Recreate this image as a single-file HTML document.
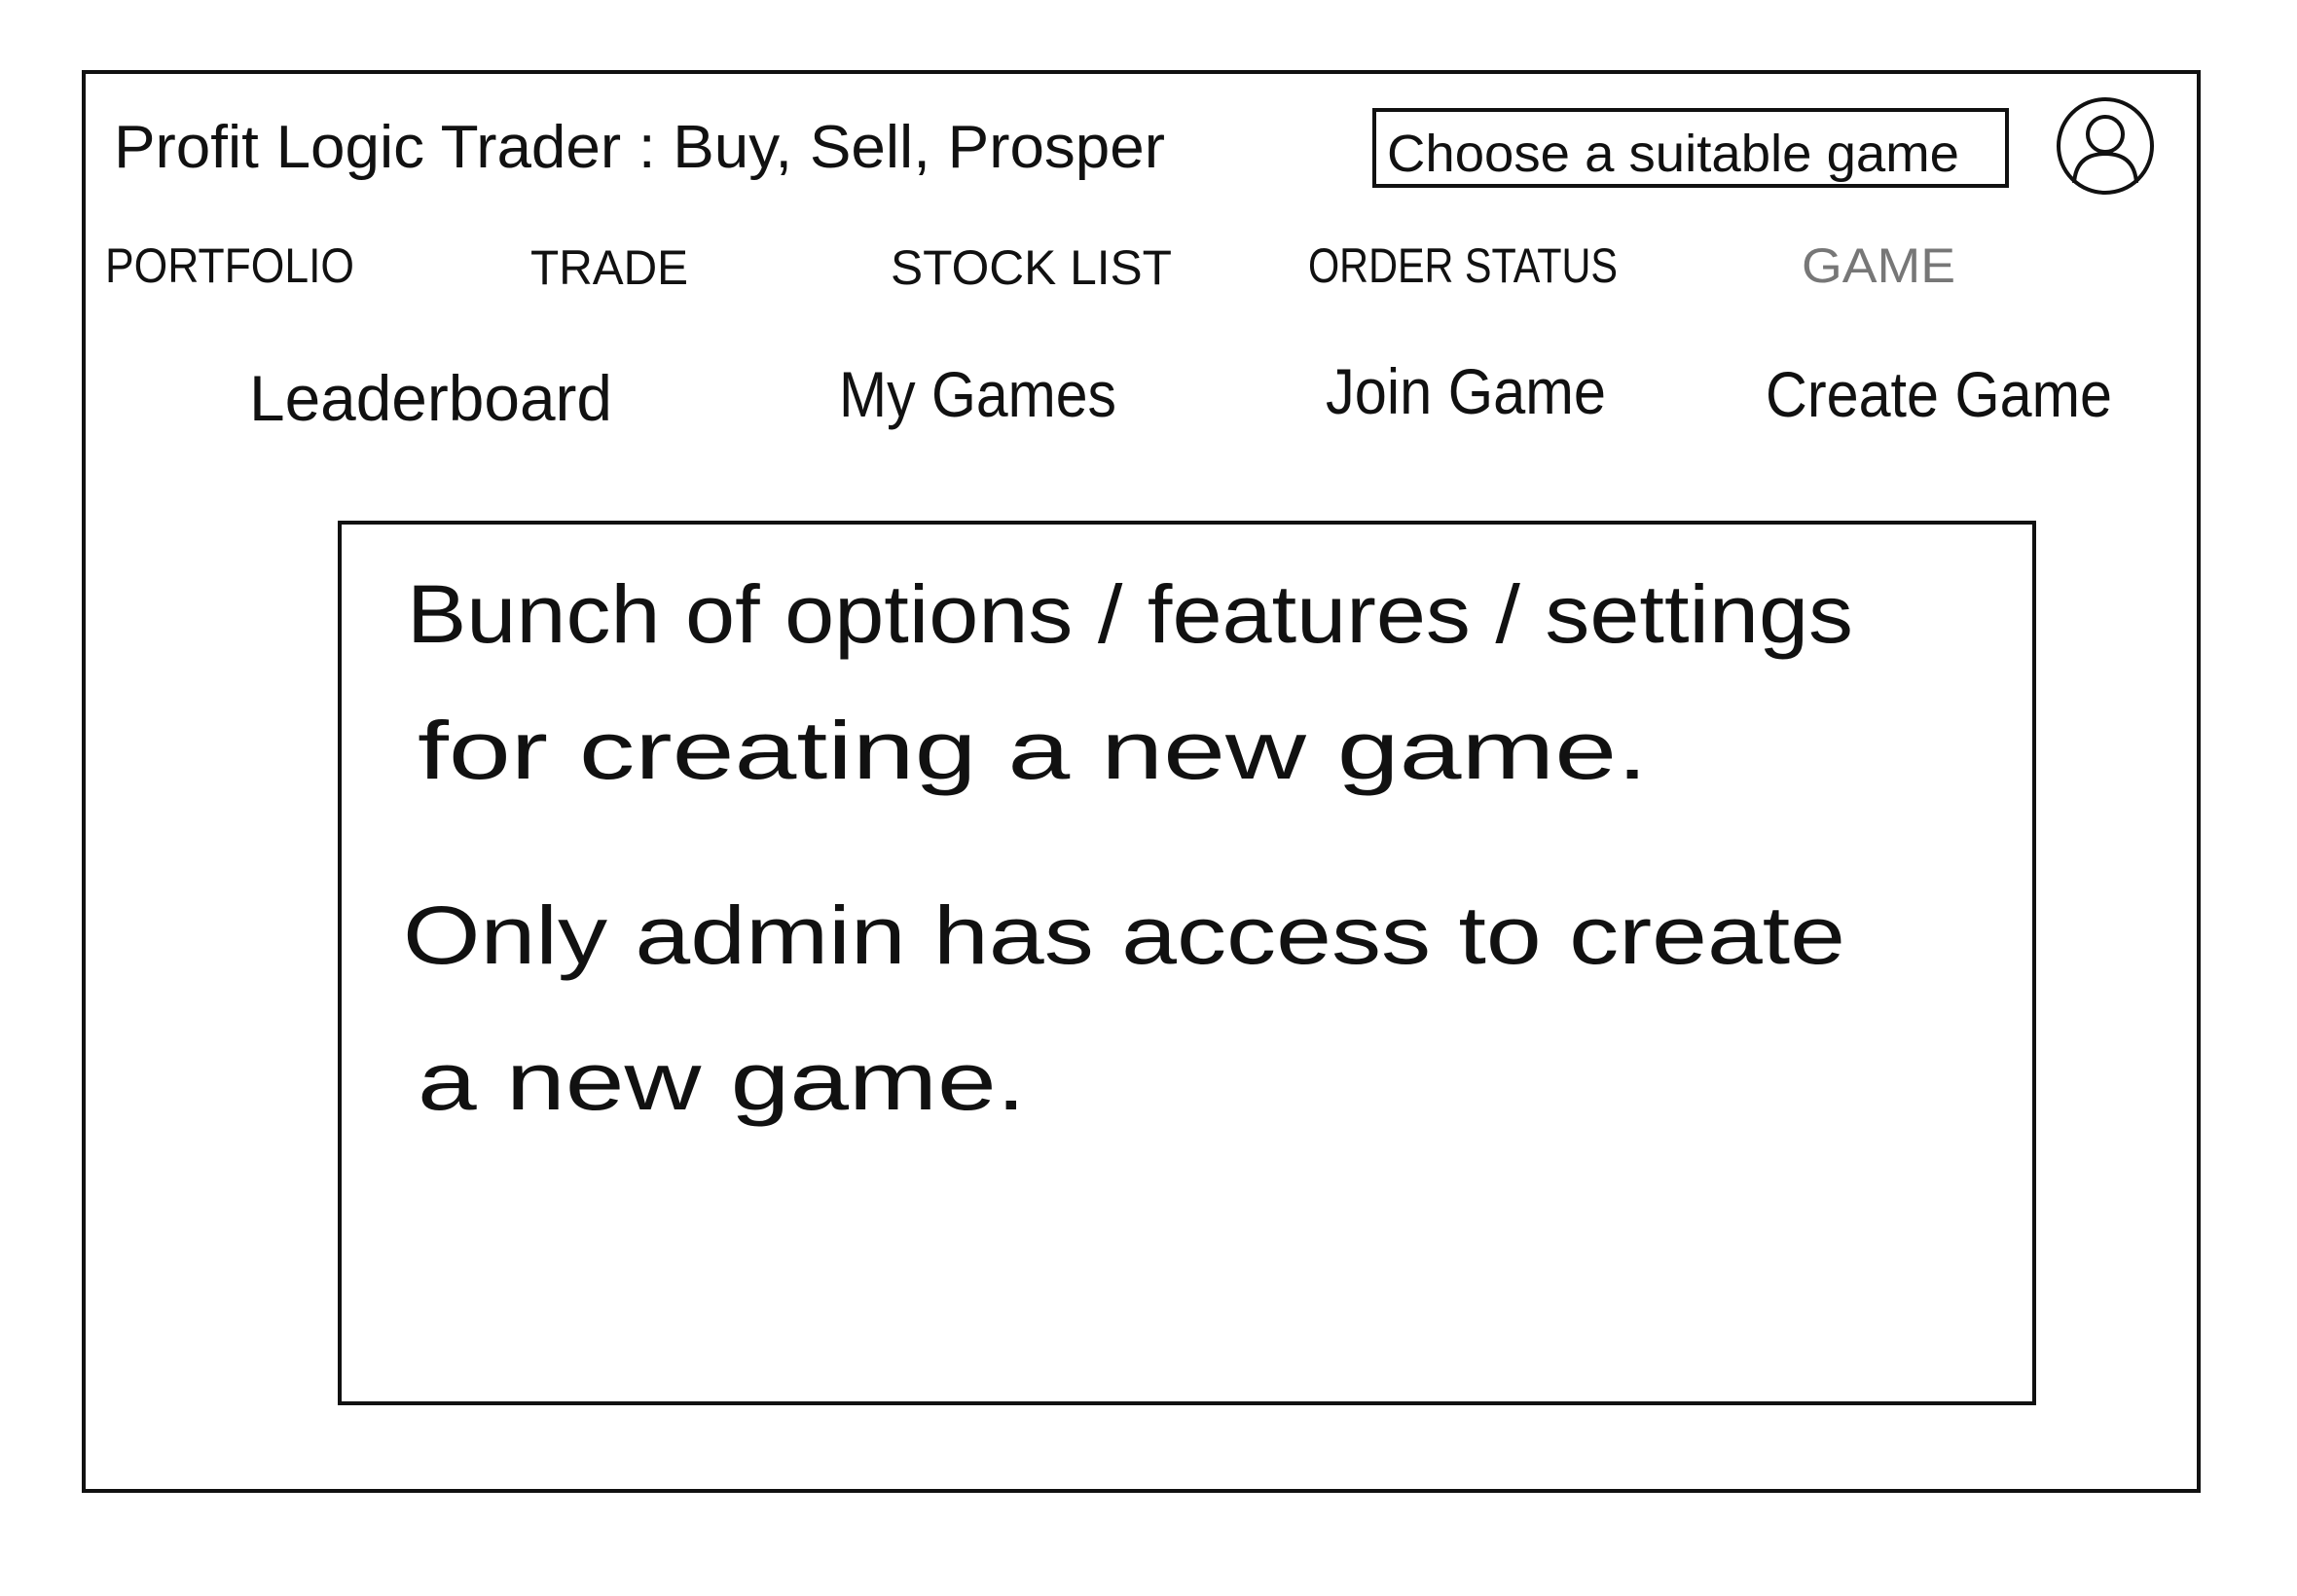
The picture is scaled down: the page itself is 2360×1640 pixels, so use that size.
<!DOCTYPE html>
<html><head><meta charset="utf-8"><style>
html,body{margin:0;padding:0;background:#fff;}
svg{display:block;}
text{font-family:"Liberation Sans",sans-serif;fill:#111;}
</style></head><body>
<svg width="2360" height="1640" viewBox="0 0 2360 1640" xmlns="http://www.w3.org/2000/svg">
<rect x="0" y="0" width="2360" height="1640" fill="#fff"/>
<rect x="86" y="74" width="2173" height="1458" fill="none" stroke="#111" stroke-width="4"/>
<text x="117" y="172" font-size="62" textLength="1080" lengthAdjust="spacingAndGlyphs">Profit Logic  Trader : Buy, Sell, Prosper</text>
<rect x="1412" y="113" width="650" height="78" fill="none" stroke="#111" stroke-width="4"/>
<text x="1425" y="176" font-size="54" textLength="588" lengthAdjust="spacingAndGlyphs">Choose  a  suitable  game</text>
<circle cx="2163" cy="150" r="48" fill="none" stroke="#111" stroke-width="4"/>
<circle cx="2163" cy="138" r="18" fill="none" stroke="#111" stroke-width="4"/>
<path d="M2131 188 Q2133 158 2163 158 Q2193 158 2195 188" fill="none" stroke="#111" stroke-width="4"/>
<g font-size="50">
<text x="108" y="290" textLength="256" lengthAdjust="spacingAndGlyphs">PORTFOLIO</text>
<text x="545" y="292" textLength="162" lengthAdjust="spacingAndGlyphs">TRADE</text>
<text x="915" y="292" textLength="289" lengthAdjust="spacingAndGlyphs">STOCK  LIST</text>
<text x="1344" y="290" textLength="318" lengthAdjust="spacingAndGlyphs">ORDER STATUS</text>
<text x="1851" y="290" textLength="158" lengthAdjust="spacingAndGlyphs" style="fill:#777">GAME</text>
</g>
<g font-size="66">
<text x="256" y="432" textLength="373" lengthAdjust="spacingAndGlyphs">Leaderboard</text>
<text x="862" y="428" textLength="285" lengthAdjust="spacingAndGlyphs">My Games</text>
<text x="1362" y="425" textLength="288" lengthAdjust="spacingAndGlyphs">Join Game</text>
<text x="1814" y="428" textLength="356" lengthAdjust="spacingAndGlyphs">Create  Game</text>
</g>
<rect x="349" y="537" width="1741" height="905" fill="none" stroke="#111" stroke-width="4"/>
<g font-size="84">
<text x="418" y="660" textLength="1486" lengthAdjust="spacingAndGlyphs">Bunch   of   options / features / settings</text>
<text x="429" y="800" textLength="1264" lengthAdjust="spacingAndGlyphs">for   creating    a    new   game.</text>
<text x="414" y="990" textLength="1482" lengthAdjust="spacingAndGlyphs">Only    admin    has    access   to   create</text>
<text x="429" y="1140" textLength="625" lengthAdjust="spacingAndGlyphs">a   new   game.</text>
</g>
</svg>
</body></html>
